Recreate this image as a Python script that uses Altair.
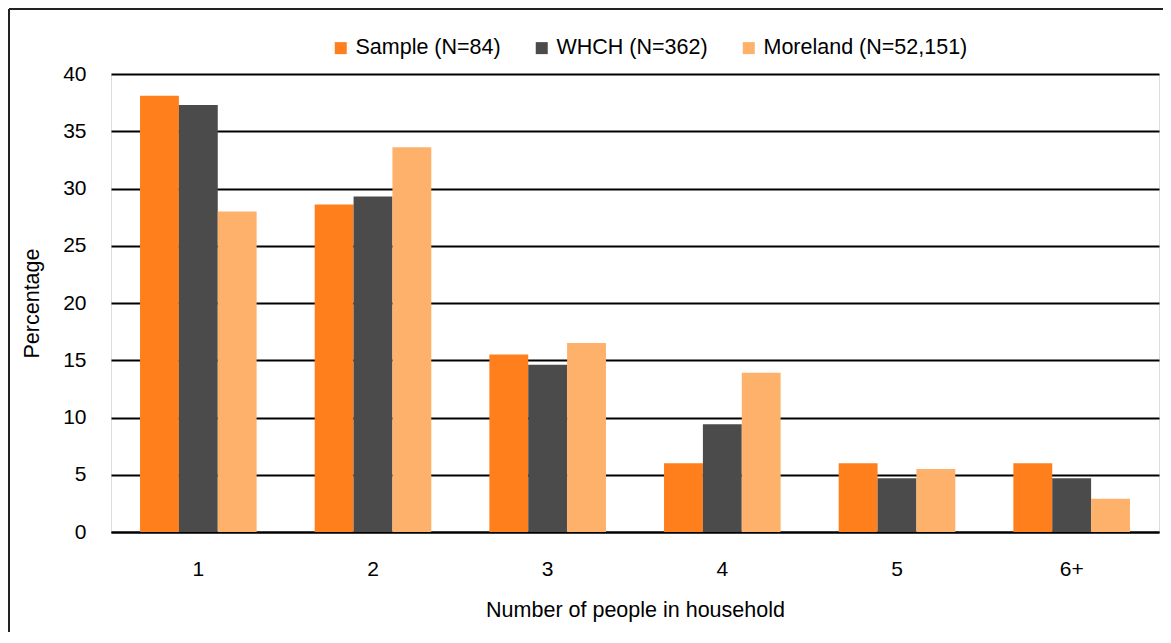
import altair as alt
import pandas as pd

categories = ["1", "2", "3", "4", "5", "6+"]
series = ["Sample (N=84)", "WHCH (N=362)", "Moreland (N=52,151)"]
sample = [38.1, 28.6, 15.5, 6.0, 6.0, 6.0]
whch = [37.3, 29.3, 14.6, 9.4, 4.7, 4.7]
moreland = [28.0, 33.6, 16.5, 13.9, 5.5, 2.9]
colors = ["#FF7F1D", "#4B4B4B", "#FDB16B"]
y_ticks = [0, 5, 10, 15, 20, 25, 30, 35, 40]

rows = []
for name, vals in zip(series, [sample, whch, moreland]):
    for c, v in zip(categories, vals):
        rows.append({"Household": c, "Series": name, "Percentage": v})
df = pd.DataFrame(rows)

FONT = "Liberation Sans"
W, H = 1048, 458

bars = alt.Chart(df).mark_bar().encode(
    x=alt.X(
        "Household:N",
        sort=categories,
        scale=alt.Scale(paddingInner=0, paddingOuter=0),
        axis=alt.Axis(
            title="Number of people in household",
            labelAngle=0,
            ticks=False,
            tickSize=0,
            labelPadding=43,
            labelBaseline="alphabetic",
            labelFontSize=21,
            labelColor="#000000",
            labelFont=FONT,
            domain=True,
            domainColor="#000000",
            domainWidth=2,
            titleFont=FONT,
            titleFontSize=21.5,
            titleFontWeight="normal",
            titleColor="#000000",
            titleY=84,
            titleBaseline="alphabetic",
        ),
    ),
    xOffset=alt.XOffset(
        "Series:N",
        sort=series,
        scale=alt.Scale(paddingInner=0, paddingOuter=0.747),
    ),
    y=alt.Y(
        "Percentage:Q",
        scale=alt.Scale(domain=[0, 40], nice=False),
        axis=alt.Axis(
            title="Percentage",
            values=y_ticks,
            ticks=False,
            tickSize=0,
            domain=False,
            grid=True,
            gridColor="#000000",
            gridWidth=2,
            labelPadding=25,
            labelFontSize=21,
            labelColor="#000000",
            labelFont=FONT,
            titleFont=FONT,
            titleFontSize=21.5,
            titleFontWeight="normal",
            titleColor="#000000",
            titleX=-79,
            titleY=H / 2,
            titleBaseline="middle",
            titleAngle=-90,
        ),
    ),
    color=alt.Color(
        "Series:N",
        sort=series,
        scale=alt.Scale(domain=series, range=colors),
        legend=alt.Legend(
            title=None,
            orient="none",
            legendX=219,
            legendY=-37,
            direction="horizontal",
            symbolType="square",
            symbolSize=144,
            symbolStrokeWidth=0,
            labelFontSize=21.5,
            labelFont=FONT,
            labelColor="#000000",
            labelOffset=4,
            labelLimit=400,
            columnPadding=30,
            padding=0,
        ),
    ),
)

frame_df = pd.DataFrame({"k": [0]})
left_border = alt.Chart(frame_df).mark_rule(color="#222222", strokeWidth=2).encode(
    x=alt.value(-102), y=alt.value(-65), y2=alt.value(561)
)
top_border = alt.Chart(frame_df).mark_rule(color="#222222", strokeWidth=2).encode(
    x=alt.value(-102), x2=alt.value(W + 10), y=alt.value(-65)
)

chart = (
    alt.layer(bars, left_border, top_border)
    .properties(
        width=W,
        height=H,
        padding={"left": 103, "top": 66, "right": 4, "bottom": 100},
        autosize=alt.AutoSizeParams(type="none"),
    )
    .configure_view(stroke=None)
    .configure(font=FONT)
)

chart.save("out.html", embed_options={"renderer": "svg", "actions": False})
